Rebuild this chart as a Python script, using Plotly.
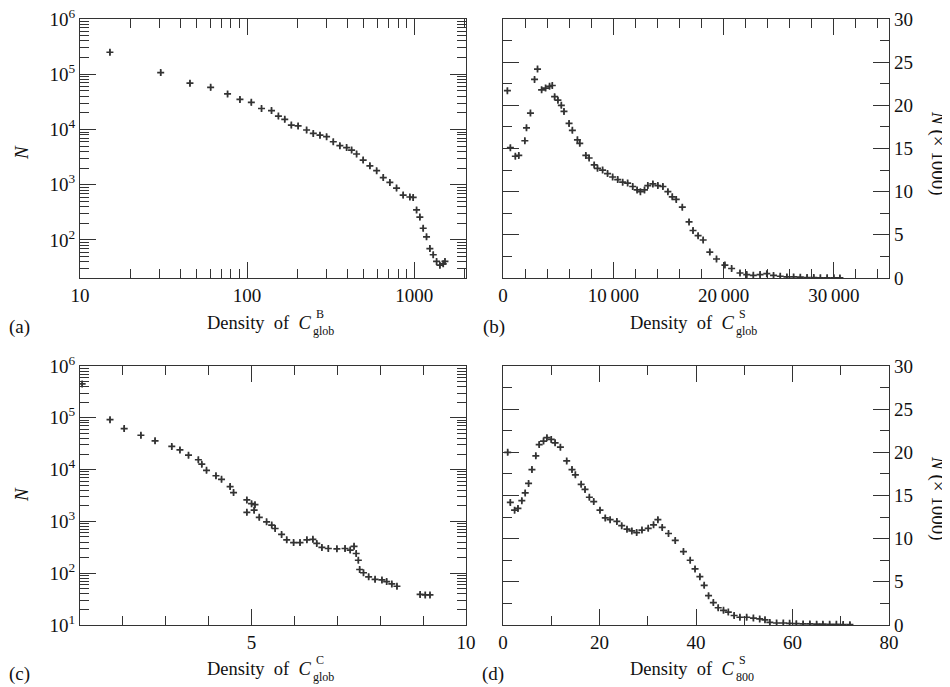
import plotly.graph_objects as go

# The page body has an 8px default margin, so the figure is drawn 8px in from the corner.
OFF = 8
FW, FH = 950 - OFF, 687 - OFF

# ---------------- data ----------------
# (a) Density of C^B_glob (log-log)
a_x = [15.1, 30.4, 45.5, 60.5, 76.4, 90.6, 106, 122, 140, 154, 168, 184, 202, 227, 249, 273, 299,
       328, 359, 394, 422, 452, 495, 543, 596, 653, 715, 784, 859, 942, 986, 1033, 1081, 1132,
       1185, 1241, 1300, 1361, 1425, 1492, 1528]
a_y = [2.5e5, 1.07e5, 6.9e4, 5.8e4, 4.4e4, 3.5e4, 3.1e4, 2.4e4, 2.2e4, 1.75e4, 1.53e4, 1.2e4,
       1.16e4, 9.8e3, 8.5e3, 7.9e3, 7.4e3, 6.0e3, 5.1e3, 4.7e3, 4.25e3, 3.6e3, 2.8e3, 2.2e3,
       1.8e3, 1.35e3, 1.1e3, 870, 650, 600, 590, 350, 260, 163, 114, 70, 54, 41, 35, 37, 41]

# (b) Density of C^S_glob (N x 1000)
b_x = [400, 670, 1120, 1430, 1980, 2130, 2490, 2860, 3130, 3500, 3860, 4220, 4470, 4680, 4980,
       5290, 5530, 5990, 6290, 6750, 6960, 7510, 7810, 8270, 8570, 9030, 9480, 9940, 10400,
       10850, 11300, 11760, 12160, 12460, 12830, 13130, 13590, 14040, 14500, 14950, 15350,
       15710, 16260, 16870, 17230, 17690, 18150, 18750, 19360, 20120, 20730, 21490, 22100,
       22700, 23310, 23920, 24530, 25140, 25740, 26350, 26960, 27570, 28180, 28780, 29390,
       30000, 30550]
b_y = [21.7, 15.1, 14.1, 14.2, 15.9, 17.4, 19.1, 23.0, 24.2, 21.8, 22.0, 22.2, 22.3, 21.0, 20.6,
       20.0, 19.3, 17.9, 17.1, 16.0, 15.6, 14.2, 13.9, 13.1, 12.7, 12.5, 12.1, 11.7, 11.4,
       11.1, 11.0, 10.6, 10.2, 10.0, 10.2, 10.7, 10.9, 10.7, 10.6, 10.0, 9.4,
       9.1, 8.2, 6.5, 5.5, 4.9, 4.4, 3.0, 2.2, 1.5, 1.1, 0.58, 0.4,
       0.31, 0.4, 0.5, 0.3, 0.2, 0.12, 0.12, 0.1, 0.05, 0.05, 0.03, 0.02,
       0.02, 0.01]

# (c) Density of C^C_glob (log y)
c_x = [1.05, 1.70, 2.03, 2.42, 2.75, 3.14, 3.33, 3.53, 3.76, 3.84, 3.95, 4.17, 4.30, 4.50, 4.58,
       4.89, 4.89, 5.00, 5.06, 5.08, 5.18, 5.35, 5.47, 5.55, 5.70, 5.82, 5.98, 6.13, 6.29, 6.43,
       6.52, 6.64, 6.79, 6.99, 7.18, 7.30, 7.39, 7.44, 7.49, 7.52, 7.61, 7.73, 7.88, 8.04, 8.15,
       8.27, 8.39, 8.93, 9.05, 9.16]
c_y = [4.5e5, 9.2e4, 6.2e4, 4.6e4, 3.6e4, 2.8e4, 2.4e4, 1.9e4, 1.55e4, 1.27e4, 9.7e3, 7.6e3,
       6.5e3, 4.7e3, 3.6e3, 2.6e3, 1.5e3, 2.2e3, 1.65e3, 2.1e3, 1.2e3, 980, 850, 730, 560, 440,
       390, 390, 440, 450, 375, 315, 300, 295, 300, 280, 330, 240, 178, 118, 102, 85, 76, 74,
       69, 62, 56, 39, 38, 38]

# (d) Density of C^S_800 (N x 1000)
d_x = [0.97, 1.52, 2.4, 3.1, 3.9, 4.6, 5.3, 6.0, 6.8, 7.5, 8.4, 9.1, 10.0, 10.8, 11.9, 13.2,
       14.3, 15.0, 16.2, 17.0, 17.9, 18.8, 20.1, 21.2, 22.2, 23.6, 24.6, 25.7, 26.7, 27.7, 28.8,
       30.1, 31.2, 32.1, 33.0, 34.3, 35.7, 37.4, 38.8, 39.8, 40.8, 41.7, 42.6, 43.6, 44.6, 45.7,
       46.7, 47.9, 49.1, 50.5, 51.9, 53.2, 54.3, 55.3, 56.7, 58.1, 59.4, 60.8, 62.2, 63.6, 65.0,
       66.3, 67.7, 69.1, 70.5, 71.9]
d_y = [20.0, 14.2, 13.3, 13.5, 14.4, 15.3, 16.4, 18.0, 19.6, 20.9, 21.3, 21.7, 21.5, 21.1, 20.6,
       19.0, 18.0, 17.4, 16.3, 15.7, 14.8, 14.3, 13.3, 12.4, 12.2, 12.0, 11.5, 11.1, 10.9, 10.7,
       11.0, 11.2, 11.6, 12.2, 11.3, 10.6, 9.8, 8.5, 7.5, 6.5, 5.6, 4.6, 3.4, 2.6, 2.0, 1.7,
       1.5, 1.1, 0.9, 0.9, 0.8, 0.7, 0.6, 0.3, 0.23, 0.23, 0.19, 0.15, 0.12, 0.12, 0.1,
       0.1, 0.08, 0.08, 0.05, 0.04]

log_y_labels = ["10<sup>1</sup>", "10<sup>2</sup>", "10<sup>3</sup>", "10<sup>4</sup>",
                "10<sup>5</sup>", "10<sup>6</sup>"]
b_x_labels = ["0", "10\u2009000", "20\u2009000", "30\u2009000"]

# ---------------- styling helpers ----------------
FONT = "Liberation Serif, Times New Roman, DejaVu Serif, serif"
INK = "#333333"
TXT = "#111111"
TICK_SIZE = 19

def px_x(p):
    return (p - OFF) / FW

def px_y(p):
    return 1 - (p - OFF) / FH

dom_left = [px_x(80), px_x(466)]
dom_right = [px_x(503), px_x(889)]
dom_top = [px_y(278), px_y(19)]
dom_bot = [px_y(625), px_y(366)]

def log_minor(lo, hi):
    vals = []
    for e in range(lo, hi + 1):
        for m in range(2, 10):
            vals.append(m * 10 ** e)
    return vals

def axis(**kw):
    d = dict(
        showline=True, linecolor=INK, linewidth=1.3, mirror="allticks",
        ticks="inside", ticklen=16, tickwidth=1.2, tickcolor=INK,
        showgrid=False, zeroline=False, automargin=False,
        ticklabeloverflow="allow",
        tickfont=dict(family=FONT, size=TICK_SIZE, color=TXT),
    )
    d.update(kw)
    return d

def minor(**kw):
    d = dict(ticks="inside", ticklen=9, tickwidth=1.1, tickcolor=INK, showgrid=False)
    d.update(kw)
    return d

def trace(x, y, xa, ya, logy):
    err = dict(type="percent", value=12, thickness=1.2, width=0, color=INK) if logy else \
        dict(type="constant", value=0.3, thickness=1.2, width=0, color=INK)
    return go.Scatter(
        x=x, y=y, xaxis=xa, yaxis=ya, mode="markers",
        marker=dict(symbol="cross-thin", size=5, line=dict(width=1.7, color=INK), color=INK),
        error_y=err, showlegend=False, hoverinfo="skip",
    )

fig = go.Figure()
fig.add_trace(trace(a_x, a_y, "x", "y", True))
fig.add_trace(trace(b_x, b_y, "x2", "y2", False))
fig.add_trace(trace(c_x, c_y, "x3", "y3", True))
fig.add_trace(trace(d_x, d_y, "x4", "y4", False))

fig.update_layout(
    width=FW, height=FH, margin=dict(l=0, r=0, t=0, b=0, autoexpand=False),
    paper_bgcolor="white", plot_bgcolor="white",
    font=dict(family=FONT, size=17, color=TXT),
    # (a)
    xaxis=axis(type="log", range=[1, 3.31], domain=dom_left, anchor="y",
               tickvals=[10, 100, 1000], ticktext=["10", "100", "1000"],
               minor=minor(tickvals=log_minor(1, 3))),
    yaxis=axis(type="log", range=[1.312, 6], domain=dom_top, anchor="x",
               tickvals=[1e2, 1e3, 1e4, 1e5, 1e6], ticktext=log_y_labels[1:],
               minor=minor(tickvals=log_minor(1, 5))),
    # (b)
    xaxis2=axis(range=[0, 35000], domain=dom_right, anchor="y2",
                tickvals=[0, 10000, 20000, 30000], ticktext=b_x_labels,
                minor=minor(tickvals=list(range(2000, 36000, 2000)))),
    yaxis2=axis(range=[0, 30], domain=dom_top, anchor="x2", side="right",
                dtick=5, minor=minor(dtick=2.5)),
    # (c)
    xaxis3=axis(range=[1, 10], domain=dom_left, anchor="y3",
                tick0=0, dtick=5, minor=minor(dtick=1)),
    yaxis3=axis(type="log", range=[1, 6], domain=dom_bot, anchor="x3",
                tickvals=[1e1, 1e2, 1e3, 1e4, 1e5, 1e6], ticktext=log_y_labels,
                minor=minor(tickvals=log_minor(1, 5))),
    # (d)
    xaxis4=axis(range=[0, 80], domain=dom_right, anchor="y4",
                dtick=20, minor=minor(dtick=10)),
    yaxis4=axis(range=[0, 30], domain=dom_bot, anchor="x4", side="right",
                dtick=5, minor=minor(dtick=2.5)),
)

anns = []

def ann(xp, yp, text, size=17, angle=0, xanchor="center", yanchor="middle"):
    anns.append(dict(x=px_x(xp), y=px_y(yp), xref="paper", yref="paper", text=text,
                     showarrow=False, textangle=angle, xanchor=xanchor, yanchor=yanchor,
                     borderpad=0,
                     font=dict(family=FONT, size=size, color=TXT)))

NB = "\u00a0"

def density_title(c_right, yc, sup, sub):
    ann(c_right, yc, "Density" + NB * 2 + "of" + NB * 2 + "<i>C</i>", 18.5, xanchor="right")
    ann(c_right + 3, yc - 9, sup, 12, xanchor="left")
    ann(c_right, yc + 8, sub, 12, xanchor="left")

density_title(312, 323, "B", "glob")
density_title(735, 323, "S", "glob")
density_title(312, 669, "C", "glob")
density_title(735, 669, "S", "800")

ann(21, 153, "<i>N</i>", 19, angle=-90)
ann(21, 495, "<i>N</i>", 19, angle=-90)
ann(938, 153, "<i>N</i> (× 1000)", 19, angle=90)
ann(938, 498, "<i>N</i> (× 1000)", 19, angle=90)

ann(19, 327, "(a)", 19)
ann(494, 327, "(b)", 19)
ann(19, 674, "(c)", 19)
ann(493, 674, "(d)", 19)

fig.update_layout(annotations=anns)

fig.write_html("out.html")
